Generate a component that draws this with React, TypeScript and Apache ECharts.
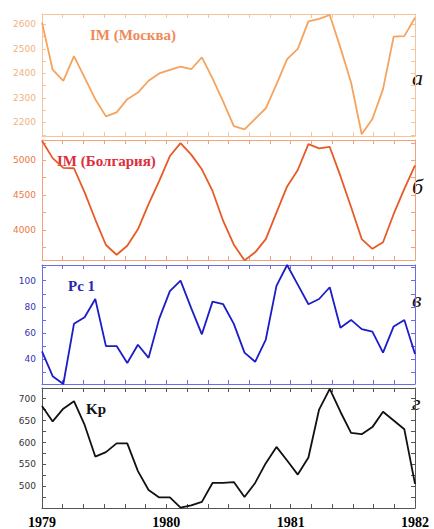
import React, { useEffect, useRef } from "react";
import * as echarts from "echarts";

const yearLabels = [1979, 1980, 1981, 1982];

const imMoscow = [2607, 2415, 2370, 2470, 2383, 2295, 2225, 2241, 2295, 2322, 2370, 2400, 2414, 2428, 2417, 2465, 2380, 2285, 2185, 2172, 2215, 2258, 2355, 2458, 2500, 2612, 2622, 2638, 2505, 2363, 2152, 2214, 2336, 2550, 2552, 2627];
const imBulgaria = [5280, 5030, 4890, 4885, 4540, 4150, 3785, 3645, 3775, 4010, 4370, 4705, 5060, 5245, 5080, 4870, 4560, 4130, 3790, 3565, 3680, 3870, 4250, 4625, 4860, 5230, 5170, 5190, 4775, 4330, 3870, 3730, 3825, 4230, 4590, 4925];
const pc1 = [46, 27, 21, 67, 72, 86, 50, 50, 37, 51, 41, 71, 92, 100, 79, 59, 84, 82, 67, 45, 38, 55, 96, 112, 97, 82, 86, 95, 64, 70, 63, 61, 45, 65, 70, 44];
const kp = [683, 648, 677, 694, 640, 568, 578, 598, 598, 535, 492, 475, 475, 452, 457, 465, 508, 508, 510, 476, 508, 553, 590, 559, 527, 566, 675, 722, 670, 622, 619, 635, 670, 650, 630, 506];

const moscowLabels = [2200, 2300, 2400, 2500, 2600];
const moscowTicks = [2150, 2200, 2250, 2300, 2350, 2400, 2450, 2500, 2550, 2600];
const bulgariaLabels = [4000, 4500, 5000];
const bulgariaTicks = [3750, 4000, 4250, 4500, 4750, 5000, 5250];
const pcLabels = [40, 60, 80, 100];
const pcTicks = [30, 40, 50, 60, 70, 80, 90, 100, 110];
const kpLabels = [500, 550, 600, 650, 700];
const kpTicks = [475, 500, 525, 550, 575, 600, 625, 650, 675, 700];

const panels = [
  { name: "IM (Москва)", letter: "а", data: imMoscow, labels: moscowLabels, ticks: moscowTicks, min: 2145, max: 2642, top: 14, height: 122, line: "#f5a35e", border: "#f6c49c", label: "#f2b27f", title: "#ef8a58", titleX: 90, letterY: 80 },
  { name: "IM (Болгария)", letter: "б", data: imBulgaria, labels: bulgariaLabels, ticks: bulgariaTicks, min: 3570, max: 5290, top: 140, height: 120, line: "#e85a26", border: "#f0a27c", label: "#ec7740", title: "#dd2e3c", titleX: 57, letterY: 189 },
  { name: "Pc 1", letter: "в", data: pc1, labels: pcLabels, ticks: pcTicks, min: 21, max: 112, top: 265, height: 119, line: "#1c1cc8", border: "#6c6ce2", label: "#3434b4", title: "#2626b0", titleX: 68, letterY: 302 },
  { name: "Kp", letter: "г", data: kp, labels: kpLabels, ticks: kpTicks, min: 451, max: 724, top: 388, height: 121, line: "#111111", border: "#555555", label: "#333333", title: "#111111", titleX: 86, letterY: 405 },
];

export default function App() {
  const ref = useRef<HTMLDivElement>(null);
  useEffect(() => {
    if (!ref.current) return;
    const chart = echarts.init(ref.current, null, { renderer: "svg" });
    const n = imMoscow.length;
    const xOf = (i: number) => yearLabels[0] + (i * (yearLabels[3] - yearLabels[0])) / (n - 1);

    const grid: any[] = [];
    const xAxis: any[] = [];
    const yAxis: any[] = [];
    const series: any[] = [];
    const graphic: any[] = [];

    panels.forEach((p, g) => {
      grid.push({ left: 42, right: 19, top: p.top, height: p.height });
      const isLast = g === panels.length - 1;
      const xBase = {
        type: "value",
        gridIndex: g,
        min: 1979,
        max: 1982,
        interval: 1,
        axisLine: { show: true, onZero: false, lineStyle: { color: p.border, width: 1 } },
        axisTick: { show: true, inside: true, length: 4, lineStyle: { color: p.border } },
        minorTick: { show: true, splitNumber: 6, length: 4, lineStyle: { color: p.border } },
        splitLine: { show: false },
        minorSplitLine: { show: false },
      };
      xAxis.push({
        ...xBase,
        position: "bottom",
        axisLabel: isLast
          ? { show: true, color: "#000", fontFamily: "Liberation Serif", fontWeight: "bold", fontSize: 14, margin: 7, formatter: (v: number) => String(v) }
          : { show: false },
      });
      xAxis.push({ ...xBase, position: "top", axisLabel: { show: false } });
      const yBase = {
        type: "value",
        gridIndex: g,
        min: p.min,
        max: p.max,
        axisLine: { show: true, onZero: false, lineStyle: { color: p.border, width: 1 } },
        axisTick: { show: true, inside: true, length: 4, customValues: p.ticks, lineStyle: { color: p.border } },
        splitLine: { show: false },
      };
      yAxis.push({
        ...yBase,
        position: "left",
        axisLabel: { show: true, customValues: p.labels, color: p.label, fontFamily: "DejaVu Sans", fontSize: 9, margin: 6, formatter: (v: number) => String(v) },
      });
      yAxis.push({ ...yBase, position: "right", axisLabel: { show: false } });
      series.push({
        type: "line",
        xAxisIndex: 2 * g,
        yAxisIndex: 2 * g,
        data: p.data.map((v, i) => [xOf(i), v]),
        showSymbol: false,
        lineStyle: { color: p.line, width: 1.8 },
        itemStyle: { color: p.line },
      });
      graphic.push({
        type: "text",
        left: p.titleX,
        top: p.top + 13,
        style: { text: p.name, fill: p.title, font: "bold 15px 'Liberation Serif'" },
      });
      graphic.push({
        type: "text",
        left: 412,
        top: p.letterY - 14,
        style: { text: p.letter, fill: "#111", font: "italic 22px 'Liberation Serif'" },
      });
    });

    chart.setOption({
      animation: false,
      backgroundColor: "#ffffff",
      grid,
      xAxis,
      yAxis,
      series,
      graphic,
    });
    return () => chart.dispose();
  }, []);
  return <div ref={ref} style={{ position: "fixed", left: 0, top: 0, width: 434, height: 529 }} />;
}
